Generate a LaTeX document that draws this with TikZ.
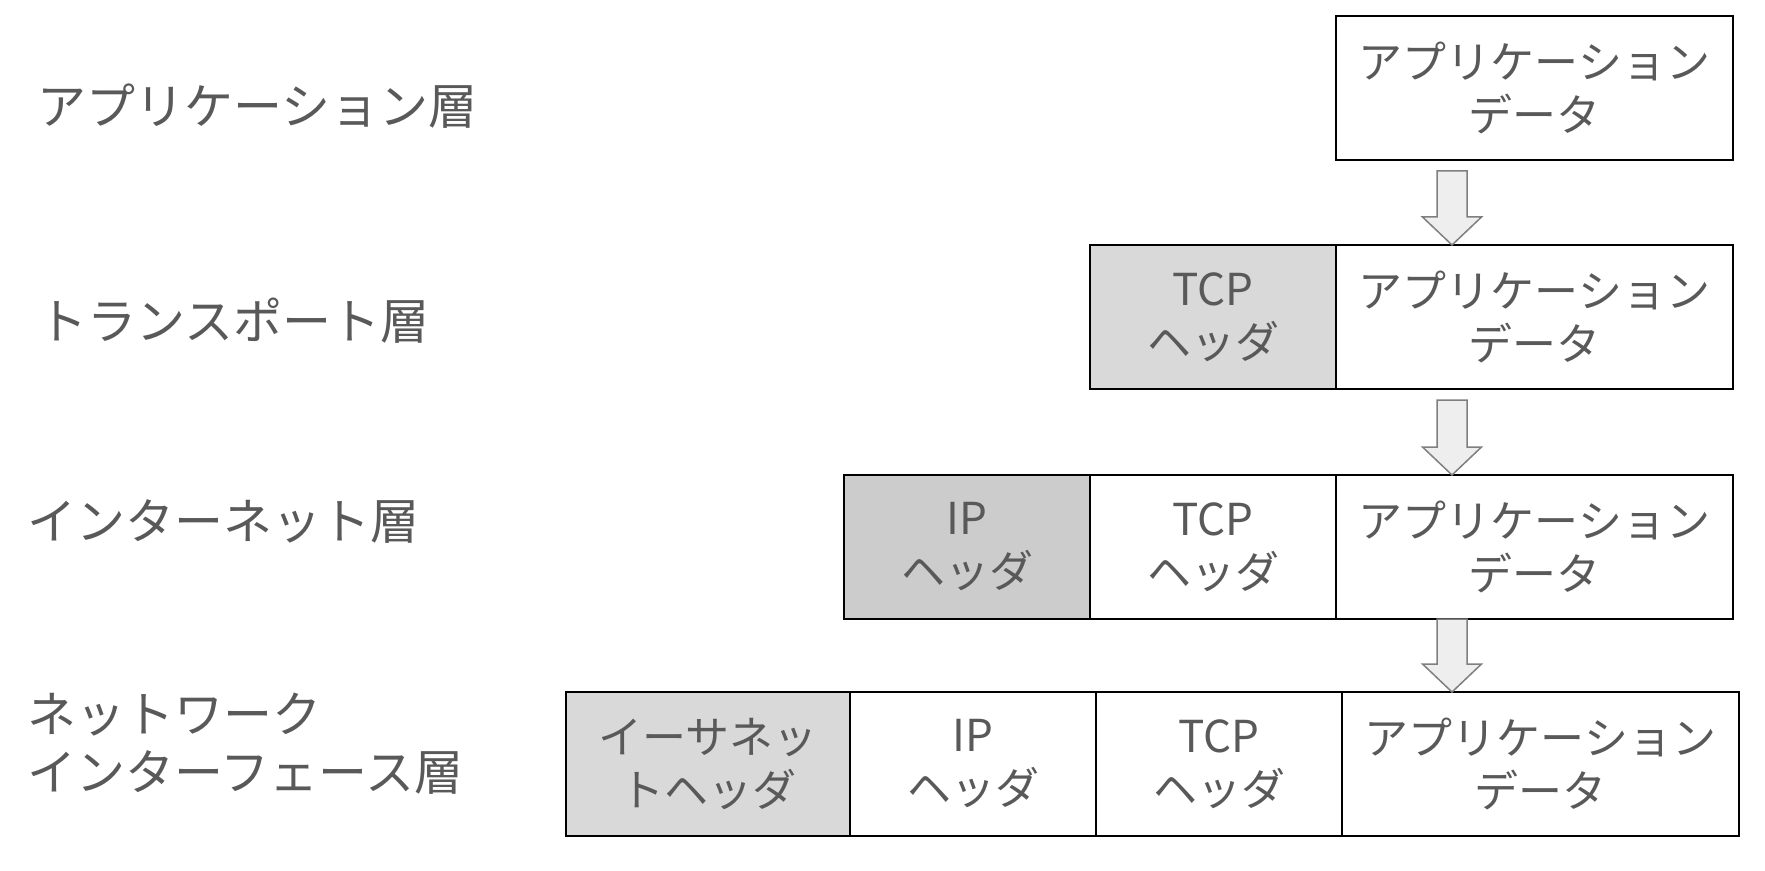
\documentclass[tikz,border=0pt]{standalone}
\usepackage{fontspec}
\setmainfont{Noto Sans CJK JP}
\usetikzlibrary{
    positioning,
    calc
}
\definecolor{textgray}{HTML}{595959}
\definecolor{hdrlight}{HTML}{D9D9D9}
\definecolor{hdrdark}{HTML}{CCCCCC}
\definecolor{arrowfill}{HTML}{EEEEEE}
\definecolor{arrowline}{HTML}{7F7F7F}

\tikzset{
    cell/.style={draw=black, line width=0.9pt, minimum height=72pt,
        inner sep=0pt, outer sep=0pt, align=center, text=textgray,
        font=\fontsize{22}{26.5}\selectfont},
    appcell/.style={cell, minimum width=198.5pt},
    hdrcell/.style={cell, minimum width=123pt},
    layer/.style={anchor=west, align=left, inner sep=0pt, text=textgray,
        font=\fontsize{24.5}{29}\selectfont},
    blockarrow/.style={draw=arrowline, fill=arrowfill, line width=0.75pt}
}

\begin{document}
\begin{tikzpicture}[x=0.5pt,y=-0.5pt]
    \useasboundingbox (0,0) rectangle (1765,871);

    % Layer names
    \node[layer] (lapp) at (37,106) {アプリケーション層};
    \node[layer] (ltrans) at (38,321) {トランスポート層};
    \node[layer] (linet) at (27,522) {インターネット層};
    \node[layer] (lnet) at (27,744) {ネットワーク\\インターフェース層};

    % Application layer
    \node[appcell, anchor=north west] (app1) at (1336,16) {アプリケーション\\データ};

    % Transport layer
    \node[appcell, anchor=north west] (app2) at (1336,245) {アプリケーション\\データ};
    \node[hdrcell, fill=hdrlight, left=0pt of app2] (tcp2) {TCP\\ヘッダ};

    % Internet layer
    \node[appcell, anchor=north west] (app3) at (1336,475) {アプリケーション\\データ};
    \node[hdrcell, left=0pt of app3] (tcp3) {TCP\\ヘッダ};
    \node[hdrcell, fill=hdrdark, left=0pt of tcp3] (ip3) {IP\\ヘッダ};

    % Network interface layer
    \node[appcell, anchor=north west] (app4) at (1342,692) {アプリケーション\\データ};
    \node[hdrcell, left=0pt of app4] (tcp4) {TCP\\ヘッダ};
    \node[hdrcell, left=0pt of tcp4] (ip4) {IP\\ヘッダ};
    \node[hdrcell, minimum width=142pt, fill=hdrlight, left=0pt of ip4] (eth4) {イーサネッ\\トヘッダ};

    % Arrows between layers
    \foreach \a/\b/\g in {app1/app2/11, app2/app3/11, app3/app4/0}{
        \coordinate (shafttop) at ($(\a.south west)+(116,\g)$);
        \coordinate (tip) at (shafttop |- \b.north);
        \draw[blockarrow] ($(shafttop)+(-15,0)$) -- ($(shafttop)+(15,0)$)
            -- ($(tip)+(15,-28)$) -- ($(tip)+(29.5,-28)$) -- (tip)
            -- ($(tip)+(-29.5,-28)$) -- ($(tip)+(-15,-28)$) -- cycle;
    }
\end{tikzpicture}
\end{document}
